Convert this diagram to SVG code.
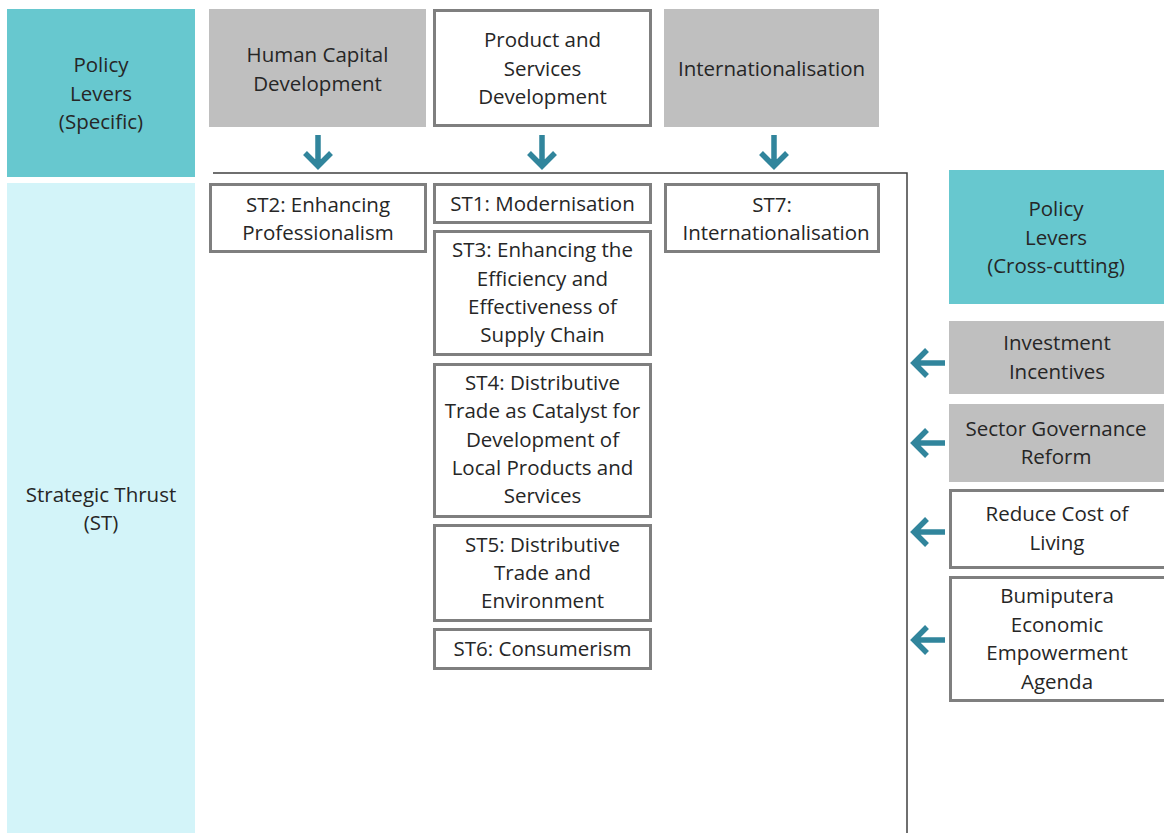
<svg xmlns="http://www.w3.org/2000/svg" width="1164" height="833" viewBox="0 0 1164 833">
<style>
text{font-family:"Open Sans","Liberation Sans",sans-serif;font-size:20.5px;fill:#262626;text-anchor:middle}
.teal{fill:#67c8cf}
.cyan{fill:#d3f4f9}
.gray{fill:#bfbfbf}
.box{fill:#fff;stroke:#7f7f7f;stroke-width:3}
.arr{fill:none;stroke:#31859c;stroke-width:5.5;stroke-linejoin:miter}
.ln{fill:none;stroke:#404040;stroke-width:1.5}
</style>
<rect width="1164" height="833" fill="#fff"/>
<g id="policy-specific"><rect class="teal" x="7" y="9" width="188" height="168"/>
<text x="101" y="72">Policy</text><text x="101" y="101">Levers</text><text x="101" y="129">(Specific)</text></g>
<g id="strategic-thrust"><rect class="cyan" x="7" y="183" width="188" height="650"/>
<text x="101" y="502">Strategic Thrust</text><text x="101" y="530">(ST)</text></g>
<g id="human-capital"><rect class="gray" x="209" y="9" width="217" height="118"/>
<text x="317.5" y="62">Human Capital</text><text x="317.5" y="91">Development</text></g>
<g id="product-services"><rect class="box" x="434.5" y="10.5" width="216" height="115"/>
<text x="542.5" y="47">Product and</text><text x="542.5" y="76">Services</text><text x="542.5" y="104">Development</text></g>
<g id="internationalisation"><rect class="gray" x="664" y="9" width="215" height="118"/>
<text x="771.5" y="76">Internationalisation</text></g>
<g id="st2"><rect class="box" x="210.5" y="184.5" width="215" height="67"/>
<text x="318" y="212">ST2: Enhancing</text><text x="318" y="240">Professionalism</text></g>
<g id="st1"><rect class="box" x="434.5" y="184.5" width="216" height="38"/>
<text x="542.5" y="211">ST1: Modernisation</text></g>
<g id="st3"><rect class="box" x="434.5" y="231.5" width="216" height="123"/>
<text x="542.5" y="257">ST3: Enhancing the</text><text x="542.5" y="286">Efficiency and</text><text x="542.5" y="314">Effectiveness of</text><text x="542.5" y="342">Supply Chain</text></g>
<g id="st4"><rect class="box" x="434.5" y="364.5" width="216" height="152"/>
<text x="542.5" y="390">ST4: Distributive</text><text x="542.5" y="418">Trade as Catalyst for</text><text x="542.5" y="447">Development of</text><text x="542.5" y="475">Local Products and</text><text x="542.5" y="503">Services</text></g>
<g id="st5"><rect class="box" x="434.5" y="525.5" width="216" height="95"/>
<text x="542.5" y="552">ST5: Distributive</text><text x="542.5" y="580">Trade and</text><text x="542.5" y="608">Environment</text></g>
<g id="st6"><rect class="box" x="434.5" y="629.5" width="216" height="39"/>
<text x="542.5" y="656">ST6: Consumerism</text></g>
<g id="st7"><rect class="box" x="665.5" y="184.5" width="213" height="67"/>
<text x="772" y="212">ST7:</text><text x="776" y="240">Internationalisation</text></g>
<g id="policy-cross"><rect class="teal" x="949" y="170" width="215" height="134"/>
<text x="1056" y="216">Policy</text><text x="1056" y="245">Levers</text><text x="1056" y="273">(Cross-cutting)</text></g>
<g id="investment"><rect class="gray" x="949" y="321" width="215" height="73"/>
<text x="1057" y="350">Investment</text><text x="1057" y="379">Incentives</text></g>
<g id="governance"><rect class="gray" x="949" y="404" width="215" height="78"/>
<text x="1056" y="436">Sector Governance</text><text x="1056" y="464">Reform</text></g>
<g id="cost-of-living"><rect class="box" x="950.5" y="490.5" width="216" height="77"/>
<text x="1057" y="521">Reduce Cost of</text><text x="1057" y="550">Living</text></g>
<g id="bumiputera"><rect class="box" x="950.5" y="577.5" width="216" height="123"/>
<text x="1057" y="603">Bumiputera</text><text x="1057" y="632">Economic</text><text x="1057" y="660">Empowerment</text><text x="1057" y="689">Agenda</text></g>
<g id="connectors">
<path class="ln" d="M213,173 H907 V833"/>
<path class="arr" d="M318,135 V166 M305,153 L318,166 L331,153"/>
<path class="arr" d="M542,135 V166 M529,153 L542,166 L555,153"/>
<path class="arr" d="M774,135 V166 M761,153 L774,166 L787,153"/>
<path class="arr" d="M945,363 H914 M927,350 L914,363 L927,376"/>
<path class="arr" d="M945,443 H914 M927,430 L914,443 L927,456"/>
<path class="arr" d="M945,532 H914 M927,519 L914,532 L927,545"/>
<path class="arr" d="M945,640 H914 M927,627 L914,640 L927,653"/>
</g>
</svg>
